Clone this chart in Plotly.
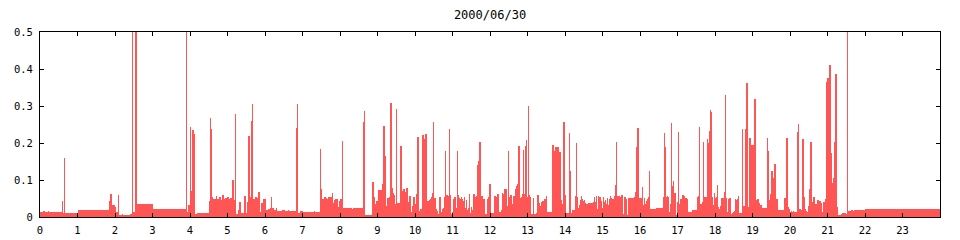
import plotly.graph_objects as go

# Step data: (minute of day where the level starts, value)
seg_00_04 = [(0, 0.0135), (5.3, 0.017), (6.9, 0.0135), (12.8, 0.017), (14.4, 0.0135),
             (35.2, 0.043), (36.8, 0.012), (38.4, 0.16), (40.0, 0.01), (60.3, 0.019),
             (110.9, 0.044), (112.8, 0.063), (114.4, 0.032), (120.0, 0.028), (121.6, 0.013),
             (124.8, 0.06), (126.4, 0.0045), (131.2, 0.008), (132.8, 0.0045), (144.0, 0.008),
             (147.2, 0.5), (148.8, 0.0135), (153.1, 0.5), (154.7, 0.035), (180.3, 0.0216),
             (233.6, 0.5), (235.2, 0.014), (237.9, 0.032)]

seg_04_08 = [(240, 0.244), (241.1, 0.071), (242.7, 0.019), (244.3, 0.235), (245.9, 0.225),
             (247.5, 0.008), (251.2, 0.011), (270.4, 0.044), (272.5, 0.268), (273.6, 0.238),
             (275.2, 0.055), (276.8, 0.05), (281.6, 0.056), (283.2, 0.05), (285.3, 0.048),
             (287.5, 0.054), (289.6, 0.046), (291.7, 0.06), (293.9, 0.048), (296, 0.052),
             (298.1, 0.045), (300.3, 0.054), (302.4, 0.048), (304.5, 0.052), (306.7, 0.043),
             (308.3, 0.1), (309.9, 0.046), (312, 0.278), (313.6, 0.008), (316.8, 0.018),
             (318.9, 0.041), (320.5, 0.011), (326.9, 0.057), (328.5, 0.011), (332.3, 0.041),
             (333.9, 0.22), (335.5, 0.055), (337.6, 0.26), (339.2, 0.305), (340.8, 0.05),
             (342.9, 0.045), (345.1, 0.055), (347.2, 0.052), (349.3, 0.068), (351.5, 0.014),
             (353.6, 0.039), (356.8, 0.049), (358.4, 0.05), (361.6, 0.019), (364.8, 0.021),
             (368, 0.025), (369.6, 0.054), (371.2, 0.023), (373.3, 0.019), (377.6, 0.025),
             (379.2, 0.016), (387.2, 0.019), (392, 0.016), (396.8, 0.019), (398.4, 0.016),
             (409.6, 0.24), (411.2, 0.305), (412.8, 0.012), (416, 0.016), (420.3, 0.0126),
             (438.4, 0.016), (440, 0.0126), (448, 0.184), (449.6, 0.076), (451.2, 0.05),
             (454.4, 0.054), (456.5, 0.052), (458.7, 0.05), (460.8, 0.054), (462.9, 0.05),
             (465.1, 0.054), (467.2, 0.064), (468.8, 0.037), (470.4, 0.046), (472.5, 0.05),
             (474.7, 0.049), (476.8, 0.027), (478.9, 0.044)]

seg_08_12 = [(480.5, 0.05), (483.2, 0.205), (484.8, 0.025), (499.7, 0.022), (500.8, 0.025),
             (516.8, 0.258), (518.4, 0.286), (520, 0.006), (532.3, 0.095), (534.4, 0.055),
             (536, 0.035), (538.1, 0.043), (539.7, 0.04), (541.9, 0.074), (543.5, 0.06),
             (545.1, 0.074), (546.7, 0.014), (548.3, 0.089), (549.9, 0.247), (551.5, 0.165),
             (553.1, 0.025), (554.7, 0.031), (556.3, 0.052), (557.9, 0.009), (559.5, 0.053),
             (561.1, 0.308), (562.7, 0.078), (564.3, 0.066), (565.9, 0.059), (568, 0.036),
             (569.6, 0.292), (571.2, 0.037), (573.3, 0.032), (574.9, 0.037), (576.5, 0.193),
             (578.1, 0.07), (579.7, 0.05), (581.3, 0.076), (582.9, 0.049), (585.1, 0.068),
             (586.7, 0.079), (588.3, 0.041), (589.9, 0.016), (591.5, 0.058), (593.6, 0.014),
             (595.2, 0.03), (596.8, 0.054), (600.5, 0.036), (602.1, 0.061), (603.7, 0.216),
             (605.3, 0.016), (607.5, 0.0225), (612.3, 0.222), (613.9, 0.212), (615.5, 0.028),
             (617.1, 0.225), (618.7, 0.038), (620.3, 0.044), (622.4, 0.046), (624, 0.05),
             (625.6, 0.053), (627.2, 0.064), (628.8, 0.257), (629.9, 0.051), (633.6, 0.021),
             (635.2, 0.017), (636.8, 0.009), (638.4, 0.055), (641.6, 0.0135), (643.2, 0.021),
             (644.8, 0.024), (646.4, 0.055), (648, 0.178), (649.1, 0.051), (650.7, 0.059),
             (652.8, 0.058), (654.4, 0.238), (656, 0.059), (657.6, 0.007), (659.2, 0.0144),
             (661.3, 0.05), (662.9, 0.053), (664.5, 0.017), (666.1, 0.023), (667.2, 0.178),
             (668.8, 0.059), (670.4, 0.052), (672, 0.05), (673.6, 0.055), (675.2, 0.049),
             (676.8, 0.044), (678.4, 0.053), (680, 0.024), (681.6, 0.046), (683.2, 0.019),
             (684.8, 0.023), (686.4, 0.061), (688, 0.012), (689.6, 0.028), (691.2, 0.019),
             (693.3, 0.061), (694.9, 0.053), (696.5, 0.023), (698.1, 0.058), (699.7, 0.14),
             (701.3, 0.152), (702.9, 0.204), (704.5, 0.058), (708.3, 0.019), (709.9, 0.049),
             (711.5, 0.009), (713.1, 0.007), (715.2, 0.023)]

seg_12_16 = [(716.3, 0.05), (717.9, 0.055), (719.5, 0.089), (721.1, 0.012), (726.9, 0.057),
             (728.5, 0.053), (730.1, 0.051), (732.3, 0.062), (733.9, 0.012), (735.5, 0.0144),
             (737.6, 0.018), (739.2, 0.064), (740.8, 0.062), (742.4, 0.076), (744, 0.077),
             (745.6, 0.076), (747.2, 0.03), (748.8, 0.178), (749.9, 0.055), (751.5, 0.052),
             (753.1, 0.059), (754.7, 0.035), (756.3, 0.057), (759.5, 0.055), (761.1, 0.076),
             (762.7, 0.085), (764.3, 0.089), (765.9, 0.192), (766.9, 0.013), (768.5, 0.052),
             (770.1, 0.053), (771.7, 0.061), (772.8, 0.181), (774.4, 0.061), (776, 0.193),
             (777.6, 0.208), (779.2, 0.053), (780.8, 0.3), (781.9, 0.06), (783.5, 0.055),
             (785.6, 0.009), (788.8, 0.052), (790.4, 0.009), (794.1, 0.012), (795.7, 0.059),
             (797.3, 0.037), (798.9, 0.025), (800.5, 0.031), (802.1, 0.04), (803.7, 0.043),
             (807.5, 0.05), (809.6, 0.057), (811.2, 0.014), (818.7, 0.195), (821.9, 0.178),
             (823.5, 0.188), (826.7, 0.028), (828.3, 0.188), (829.9, 0.041), (831.5, 0.175),
             (833.1, 0.046), (834.7, 0.035), (837.9, 0.258), (838.9, 0.055), (840, 0.059),
             (841.6, 0.01), (843.2, 0.012), (846.4, 0.228), (848, 0.125), (849.6, 0.012),
             (851.2, 0.019), (856, 0.057), (857.6, 0.2), (858.7, 0.053), (860.8, 0.023),
             (862.4, 0.032), (864, 0.046), (865.6, 0.057), (867.2, 0.049), (868.8, 0.043),
             (870.4, 0.046), (872, 0.039), (873.6, 0.034), (875.2, 0.035), (876.8, 0.039),
             (884.8, 0.041), (886.4, 0.055), (888, 0.04), (889.6, 0.057), (891.2, 0.021),
             (892.8, 0.057), (894.4, 0.053), (897.6, 0.044), (899.2, 0.025), (900.8, 0.055),
             (902.4, 0.041), (904, 0.046), (905.6, 0.035), (907.2, 0.052), (908.8, 0.032),
             (910.4, 0.05), (912, 0.057), (913.6, 0.052), (915.2, 0.05), (916.8, 0.05),
             (918.4, 0.057), (920, 0.086), (921.6, 0.204), (922.7, 0.058), (924.3, 0.028),
             (925.9, 0.058), (927.5, 0.052), (929.1, 0.055), (930.7, 0.059), (932.3, 0.007),
             (933.9, 0.053), (937.1, 0.05), (938.7, 0.0054), (940.3, 0.052), (943.5, 0.05),
             (945.1, 0.052), (946.7, 0.0036), (948.3, 0.052), (949.9, 0.007), (951.5, 0.053),
             (953.1, 0.068), (954.7, 0.188), (955.7, 0.241), (957.3, 0.057)]

seg_16_20 = [(958.4, 0.052), (963.2, 0.08), (964.8, 0.032), (966.4, 0.052), (968, 0.035),
             (969.6, 0.044), (971.2, 0.05), (972.8, 0.053), (974.4, 0.125), (976, 0.0225),
             (985.6, 0.025), (996.8, 0.055), (998.4, 0.228), (1000, 0.188), (1001.6, 0.055),
             (1003.2, 0.058), (1004.8, 0.055), (1006.4, 0.0126), (1008, 0.035), (1009.6, 0.255),
             (1011.2, 0.084), (1012.8, 0.097), (1014.4, 0.064), (1016, 0.066), (1017.6, 0.0054),
             (1019.2, 0.04), (1020.8, 0.229), (1021.9, 0.035), (1023.5, 0.025), (1025.1, 0.05),
             (1026.7, 0.039), (1028.3, 0.059), (1029.9, 0.057), (1031.5, 0.007), (1033.1, 0.052),
             (1034.7, 0.05), (1036.3, 0.0144), (1043.7, 0.019), (1051.2, 0.053), (1052.8, 0.057),
             (1054.4, 0.244), (1056, 0.035), (1059.2, 0.04), (1060.8, 0.202), (1062.4, 0.055),
             (1067.2, 0.211), (1068.8, 0.199), (1070.4, 0.232), (1072, 0.289), (1073.6, 0.283),
             (1075.2, 0.055), (1076.8, 0.032), (1078.4, 0.066), (1080, 0.052), (1081.6, 0.055),
             (1083.2, 0.086), (1084.8, 0.026), (1086.4, 0.021), (1088, 0.03), (1089.6, 0.052),
             (1094.4, 0.068), (1096, 0.33), (1097.6, 0.052), (1099.2, 0.0126), (1100.8, 0.049),
             (1102.4, 0.052), (1105.6, 0.007), (1107.2, 0.01), (1108.8, 0.0144), (1110.4, 0.017),
             (1112, 0.05), (1113.6, 0.046), (1115.2, 0.05), (1116.8, 0.057), (1118.4, 0.012),
             (1123.2, 0.238), (1124.3, 0.031), (1128, 0.238), (1129.1, 0.041), (1130.7, 0.361),
             (1132.3, 0.028), (1135.5, 0.213), (1137.1, 0.195), (1141.9, 0.154), (1143.5, 0.319),
             (1145.1, 0.046), (1146.7, 0.043), (1148.3, 0.05), (1149.9, 0.039), (1151.5, 0.012),
             (1153.1, 0.032), (1154.7, 0.021), (1156.3, 0.023), (1157.9, 0.025), (1163.2, 0.213),
             (1164.3, 0.178), (1165.9, 0.046), (1167.5, 0.041), (1169.1, 0.061), (1170.7, 0.123),
             (1172.3, 0.05), (1173.9, 0.105), (1175.5, 0.143), (1177.1, 0.05), (1180.3, 0.019),
             (1191.5, 0.052), (1193.1, 0.049), (1194.7, 0.213), (1196.3, 0.028), (1197.9, 0.021)]

seg_20_24 = [(1200, 0.0144), (1201.6, 0.016), (1203.2, 0.0126), (1204.8, 0.016), (1206.4, 0.0144),
             (1208, 0.0126), (1209.6, 0.0144), (1211.2, 0.229), (1212.8, 0.251), (1214.4, 0.022),
             (1216, 0.021), (1217.6, 0.019), (1219.2, 0.017), (1220.3, 0.21), (1221.9, 0.053),
             (1223.5, 0.021), (1225.1, 0.016), (1226.7, 0.0126), (1228.3, 0.01), (1229.9, 0.03),
             (1231.5, 0.076), (1233.1, 0.202), (1234.7, 0.041), (1236.3, 0.0144), (1237.9, 0.053),
             (1239.5, 0.007), (1241.1, 0.035), (1242.7, 0.007), (1244.3, 0.046), (1245.9, 0.01),
             (1247.5, 0.044), (1249.1, 0.039), (1250.7, 0.01), (1252.3, 0.0144), (1253.9, 0.04),
             (1255.5, 0.007), (1257.1, 0.05), (1258.7, 0.364), (1260.3, 0.375), (1261.9, 0.253),
             (1263.5, 0.41), (1265.1, 0.172), (1266.7, 0.091), (1268.3, 0.052), (1269.9, 0.105),
             (1271.5, 0.204), (1273.1, 0.386), (1274.7, 0.028), (1276.3, 0.0054), (1281.6, 0.007),
             (1283.7, 0.01), (1289.1, 0.007), (1291.2, 0.5), (1292.3, 0.016), (1298.7, 0.019),
             (1300.3, 0.016), (1301.9, 0.019), (1320, 0.0216)]

day_end_minute = 1440
title_text = "2000/06/30"
x_tick_vals = list(range(24))
y_tick_vals = [0, 0.1, 0.2, 0.3, 0.4, 0.5]
y_tick_text = ["0", "0.1", "0.2", "0.3", "0.4", "0.5"]

steps = seg_00_04 + seg_04_08 + seg_08_12 + seg_12_16 + seg_16_20 + seg_20_24
starts = [s[0] for s in steps]
values = [s[1] for s in steps]
ends = starts[1:] + [day_end_minute]
x_hours = [m / 60 for m in starts]
widths = [(e - s) / 60 for s, e in zip(starts, ends)]

fig = go.Figure(go.Bar(
    x=x_hours, y=values, width=widths, offset=0,
    marker=dict(color="#ff5555", line=dict(width=0)),
    hoverinfo="skip",
))

font = dict(family="DejaVu Sans Mono", size=10.5, color="black")
title_font = dict(family="DejaVu Sans Mono", size=12, color="black")
fig.update_layout(
    width=960, height=240,
    margin=dict(l=40, r=20, t=32, b=23, autoexpand=False),
    paper_bgcolor="white", plot_bgcolor="white",
    bargap=0, showlegend=False, font=font,
    title=dict(text=title_text, x=0.5, xref="paper", y=1 - 15 / 240, yref="container",
               xanchor="center", yanchor="middle", font=title_font),
)
fig.update_xaxes(range=[0, 24], tickvals=x_tick_vals, ticks="inside", ticklen=4,
                 tickcolor="black", showline=True, linecolor="black", linewidth=1,
                 mirror="ticks", showgrid=False, zeroline=False, tickfont=font,
                 automargin=False, ticklabelstandoff=3)
fig.update_yaxes(range=[0, 0.5], tickvals=y_tick_vals, ticktext=y_tick_text, ticks="inside",
                 ticklen=4, tickcolor="black", showline=True, linecolor="black", linewidth=1,
                 mirror="ticks", showgrid=False, zeroline=False, tickfont=font,
                 automargin=False, ticklabelstandoff=4)

fig.write_html("out.html")
